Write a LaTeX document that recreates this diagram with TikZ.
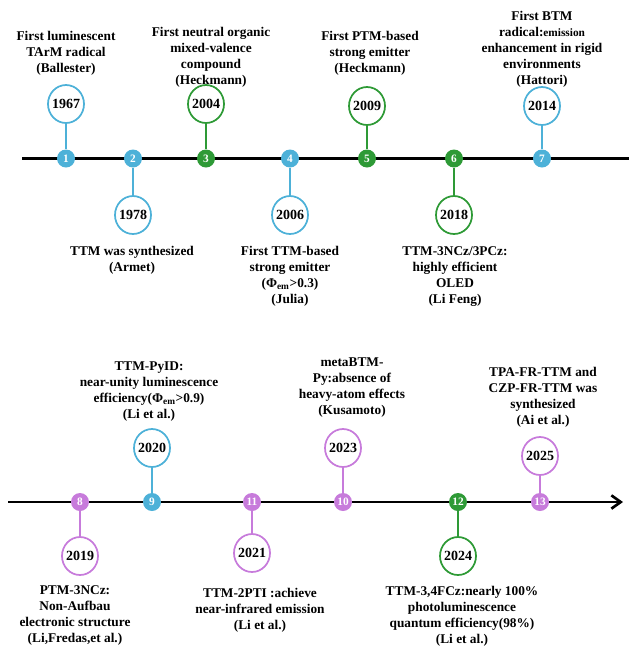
\documentclass[tikz,border=0pt]{standalone}
\usepackage{fontspec}
\setmainfont{Liberation Serif}
\usetikzlibrary{arrows.meta,positioning,shapes.geometric}
\definecolor{sky}{HTML}{4DB1D8}
\definecolor{leaf}{HTML}{2E9A36}
\definecolor{orchid}{HTML}{C77BDB}

\begin{document}
\begin{tikzpicture}[x=0.75pt,y=-0.75pt,
  font=\bfseries\fontsize{10}{12}\selectfont,
  timeline/.style={line width=2pt,black},
  dot/.style={circle,fill=#1,minimum size=13.5pt,inner sep=0pt,text=white,
              font=\bfseries\fontsize{8.5}{9}\selectfont},
  year/.style={ellipse,draw=#1,line width=1.3pt,fill=white,minimum width=27pt,
               minimum height=28.5pt,inner sep=0pt},
  yr/.style={font=\bfseries\fontsize{10.5}{12}\selectfont},
  stem/.style={#1,line width=1.3pt},
  note/.style={align=center,inner sep=0pt,anchor=north}]
\useasboundingbox (0,0) rectangle (629,647);
\coordinate (a1) at (22,158.5);
\coordinate (b1) at (629,158.5);
\draw[timeline] (a1) -- (b1);
\node[dot=sky] (d1) at (66,158.5) {1};
\node[dot=sky] (d2) at (133,158.5) {2};
\node[dot=leaf] (d3) at (206,158.5) {3};
\node[dot=sky] (d4) at (290,158.5) {4};
\node[dot=leaf] (d5) at (367,158.5) {5};
\node[dot=leaf] (d6) at (454,158.5) {6};
\node[dot=sky] (d7) at (542,158.5) {7};
\node[year=sky,label={[yr]center:1967}] (y1967) at (66,104) {};
\node[year=sky,label={[yr]center:1978}] (y1978) at (133,215) {};
\node[year=leaf,label={[yr]center:2004}] (y2004) at (206,104) {};
\node[year=sky,label={[yr]center:2006}] (y2006) at (290,215) {};
\node[year=leaf,label={[yr]center:2009}] (y2009) at (367,106) {};
\node[year=leaf,label={[yr]center:2018}] (y2018) at (454,215) {};
\node[year=sky,label={[yr]center:2014}] (y2014) at (542,106) {};
\draw[stem=sky] (y1967) -- (d1);
\draw[stem=sky] (y1978) -- (d2);
\draw[stem=leaf] (y2004) -- (d3);
\draw[stem=sky] (y2006) -- (d4);
\draw[stem=leaf] (y2009) -- (d5);
\draw[stem=leaf] (y2018) -- (d6);
\draw[stem=sky] (y2014) -- (d7);
\node[note] (n1967) at (66,31) {First luminescent\\TArM radical\\(Ballester)};
\node[note] (n2004) at (211,27) {First neutral organic\\mixed-valence\\compound\\(Heckmann)};
\node[note] (n2009) at (370,31) {First PTM-based\\strong emitter\\(Heckmann)};
\node[note] (n2014) at (542,11) {First BTM\\radical:{\fontsize{8.5}{12}\selectfont emission}\\enhancement in rigid\\environments\\(Hattori)};
\node[note] (n1978) at (132,246) {TTM was synthesized\\(Armet)};
\node[note] (n2006) at (290,246) {First TTM-based\\strong emitter\\(Φ\textsubscript{em}>0.3)\\(Julia)};
\node[note] (n2018) at (455,246) {TTM-3NCz/3PCz:\\highly efficient\\OLED\\(Li Feng)};
\coordinate (a2) at (8,502);
\coordinate (b2) at (623,502);
\draw[timeline,-{Straight Barb[length=7pt,width=10pt]}] (a2) -- (b2);
\node[dot=orchid] (d8) at (80,502) {8};
\node[dot=sky] (d9) at (152,502) {9};
\node[dot=orchid] (d11) at (252,502) {11};
\node[dot=orchid] (d10) at (343,502) {10};
\node[dot=leaf] (d12) at (458,502) {12};
\node[dot=orchid] (d13) at (540,502) {13};
\node[year=orchid,label={[yr]center:2019}] (y2019) at (80,556) {};
\node[year=sky,label={[yr]center:2020}] (y2020) at (152,448) {};
\node[year=orchid,label={[yr]center:2021}] (y2021) at (252,553) {};
\node[year=orchid,label={[yr]center:2023}] (y2023) at (343,448) {};
\node[year=leaf,label={[yr]center:2024}] (y2024) at (458,556) {};
\node[year=orchid,label={[yr]center:2025}] (y2025) at (540,456) {};
\draw[stem=orchid] (y2019) -- (d8);
\draw[stem=sky] (y2020) -- (d9);
\draw[stem=orchid] (y2021) -- (d11);
\draw[stem=orchid] (y2023) -- (d10);
\draw[stem=leaf] (y2024) -- (d12);
\draw[stem=orchid] (y2025) -- (d13);
\node[note] (n2020) at (149,361) {TTM-PyID:\\near-unity luminescence\\efficiency(Φ\textsubscript{em}>0.9)\\(Li et al.)};
\node[note] (n2023) at (352,357) {metaBTM-\\Py:absence of\\heavy-atom effects\\(Kusamoto)};
\node[note] (n2025) at (543,367) {TPA-FR-TTM and\\CZP-FR-TTM was\\synthesized\\(Ai et al.)};
\node[note] (n2019) at (75,585) {PTM-3NCz:\\Non-Aufbau\\electronic structure\\(Li,Fredas,et al.)};
\node[note] (n2021) at (260,588) {TTM-2PTI :achieve\\near-infrared emission\\(Li et al.)};
\node[note] (n2024) at (462,586) {TTM-3,4FCz:nearly 100\%\\photoluminescence\\quantum efficiency(98\%)\\(Li et al.)};
\end{tikzpicture}
\end{document}
